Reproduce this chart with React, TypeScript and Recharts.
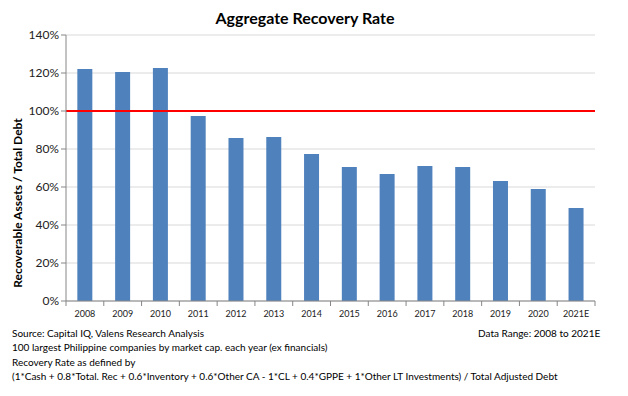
import React from 'react';
import { BarChart, Bar, XAxis, YAxis, CartesianGrid, ReferenceLine, Label } from 'recharts';

const years = ['2008', '2009', '2010', '2011', '2012', '2013', '2014', '2015', '2016', '2017', '2018', '2019', '2020', '2021E'];
const recoveryRate = [122.1, 120.5, 122.6, 97.4, 85.8, 86.3, 77.4, 70.5, 66.8, 71.0, 70.5, 63.2, 59.0, 49.0];
const yTicks = [0, 20, 40, 60, 80, 100, 120, 140];
const threshold = 100;

const title = 'Aggregate Recovery Rate';
const yLabel = 'Recoverable Assets / Total Debt';
const footLines = [
  'Source: Capital IQ, Valens Research Analysis',
  '100 largest Philippine companies by market cap. each year (ex financials)',
  'Recovery Rate as defined by',
  '(1*Cash + 0.8*Total. Rec + 0.6*Inventory + 0.6*Other CA - 1*CL + 0.4*GPPE + 1*Other LT Investments) / Total Adjusted Debt',
];
const dataRange = 'Data Range: 2008 to 2021E';

const data = years.map((y, i) => ({ year: y, rate: recoveryRate[i] }));

const FONT = 'Lato, "Liberation Sans", sans-serif';

function XTick(props: any) {
  const { x, y, payload, index, visibleTicksCount } = props;
  const off = payload.offset ?? 0;
  const top = y - 8;
  return (
    <g>
      <line x1={x - off} x2={x - off} y1={top} y2={top + 5} stroke="#868686" />
      {index === visibleTicksCount - 1 && (
        <line x1={x + off} x2={x + off} y1={top} y2={top + 5} stroke="#868686" />
      )}
      <text x={x} y={y + 8} textAnchor="middle" fontSize={9} fontFamily={FONT} fill="#222">
        {payload.value}
      </text>
    </g>
  );
}

function YTitle(props: any) {
  const { viewBox } = props;
  const cx = viewBox.x + 17;
  const cy = viewBox.y + viewBox.height / 2 + 35;
  return (
    <text
      x={cx}
      y={cy}
      transform={`rotate(-90, ${cx}, ${cy})`}
      textAnchor="middle"
      dominantBaseline="central"
      fontSize={12}
      fontWeight={700}
      fontFamily={FONT}
      fill="#000"
    >
      {yLabel}
    </text>
  );
}

export default function App() {
  return (
    <div style={{ position: 'absolute', left: 0, top: 0, width: 628, height: 396, background: '#fff', fontFamily: FONT }}>
      <div style={{ position: 'absolute', left: 0, width: 610, top: 8, textAlign: 'center', fontSize: 16, fontWeight: 700, color: '#000' }}>
        {title}
      </div>
      <BarChart
        width={628}
        height={396}
        data={data}
        margin={{ top: 35, right: 33, bottom: 75, left: 0 }}
        barCategoryGap="30%"
      >
        <CartesianGrid vertical={false} stroke="#D9D9D9" />
        <XAxis
          dataKey="year"
          height={20}
          tickLine={false}
          axisLine={{ stroke: '#868686' }}
          tick={<XTick />}
          interval={0}
        />
        <YAxis
          width={66}
          domain={[0, 140]}
          ticks={yTicks}
          tickFormatter={(v: number) => `${v}%`}
          axisLine={{ stroke: '#868686' }}
          tickLine={{ stroke: '#868686' }}
          tickSize={5}
          tick={{ fontSize: 12, fill: '#222', fontFamily: FONT }}
        >
          <Label content={<YTitle />} />
        </YAxis>
        <Bar dataKey="rate" fill="#4F81BD" isAnimationActive={false} />
        <ReferenceLine y={threshold} stroke="#FF0000" strokeWidth={2} ifOverflow="extendDomain" />
      </BarChart>
      <div style={{ position: 'absolute', left: 12, top: 326, fontSize: 10, lineHeight: '14.3px', color: '#000' }}>
        {footLines.map((t, i) => (
          <div key={i} style={{ whiteSpace: 'nowrap' }}>{t}</div>
        ))}
      </div>
      <div style={{ position: 'absolute', left: 478, top: 326, fontSize: 10, lineHeight: '14.3px', color: '#000', whiteSpace: 'nowrap' }}>
        {dataRange}
      </div>
    </div>
  );
}
